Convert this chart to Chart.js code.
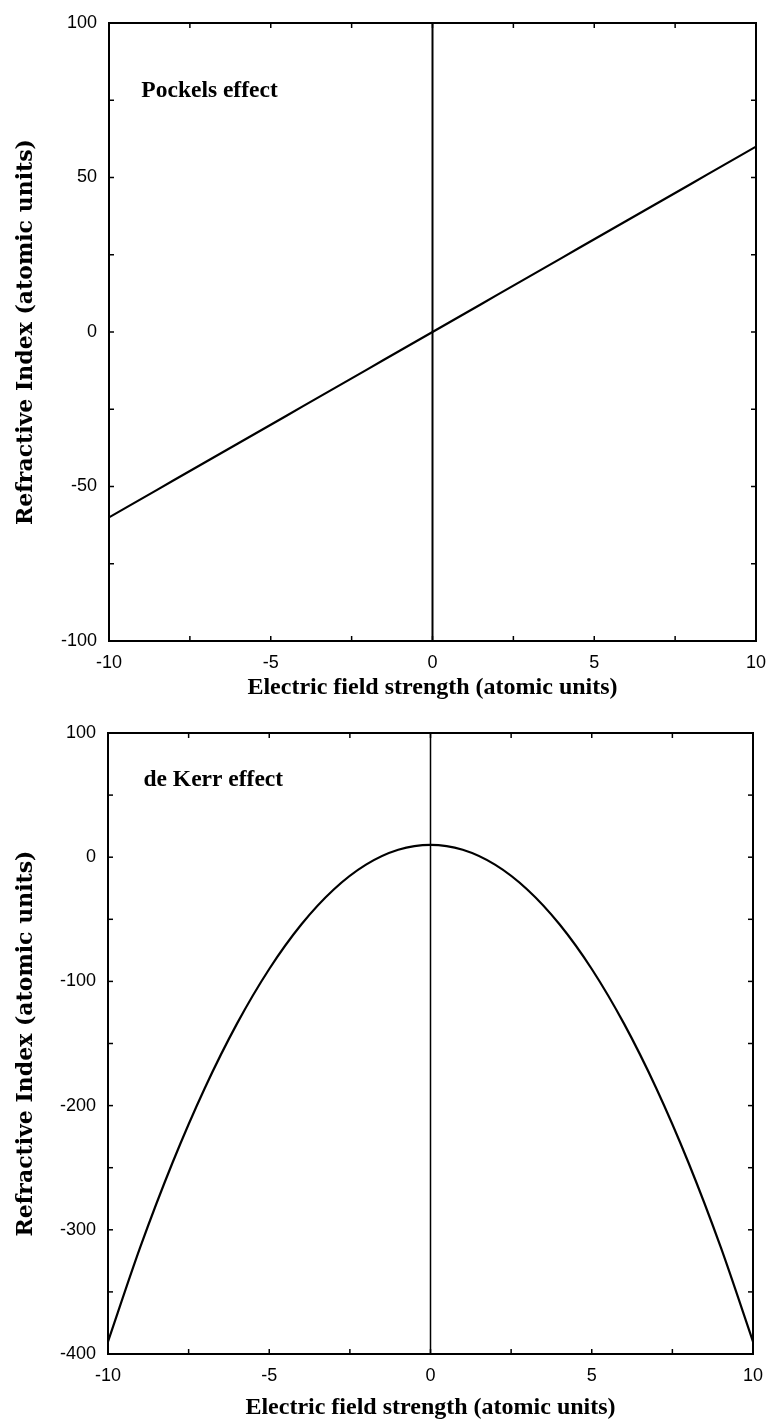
<!DOCTYPE html>
<html><head><meta charset="utf-8">
<script src="https://cdn.jsdelivr.net/npm/chart.js@4.4.0/dist/chart.umd.min.js"></script>
<style>
html,body{margin:0;padding:0;background:#fff;}
#w1{position:absolute;left:0;top:0;width:769px;height:712px;}
#w2{position:absolute;left:0;top:712px;width:769px;height:710px;}
</style></head><body>
<div id="w1"><canvas id="c1"></canvas></div>
<div id="w2"><canvas id="c2"></canvas></div>
<script>
// ---- data ----
const fieldX = [-10,-9,-8,-7,-6,-5,-4,-3,-2,-1,0,1,2,3,4,5,6,7,8,9,10];
const pockelsY = [-60,-54,-48,-42,-36,-30,-24,-18,-12,-6,0,6,12,18,24,30,36,42,48,54,60];
const kerrY = [-390,-314,-246,-186,-134,-90,-54,-26,-6,6,10,6,-6,-26,-54,-90,-134,-186,-246,-314,-390];
const xTickLabels = ['-10','-5','0','5','10'];
const pockelsYTickLabels = ['-100','-50','0','50','100'];
const kerrYTickLabels = ['-400','-300','-200','-100','0','100'];
const xTitle = 'Electric field strength (atomic units)';
const yTitle = 'Refractive Index (atomic units)';

const framePlugin = {
  id: 'frame',
  afterDraw(chart, args, opts) {
    const {ctx, chartArea: a, scales: {x, y}} = chart;
    ctx.save();
    ctx.strokeStyle = '#000';
    ctx.lineWidth = 1.5;
    const seg = (x1, y1, x2, y2) => { ctx.beginPath(); ctx.moveTo(x1, y1); ctx.lineTo(x2, y2); ctx.stroke(); };
    x.ticks.forEach(t => {
      const px = x.getPixelForValue(t.value);
      seg(px, a.bottom, px, a.bottom - 5);
      seg(px, a.top, px, a.top + 5);
    });
    y.ticks.forEach(t => {
      const py = y.getPixelForValue(t.value);
      seg(a.left, py, a.left + 5, py);
      seg(a.right, py, a.right - 5, py);
    });
    ctx.lineWidth = 2;
    ctx.strokeRect(a.left, a.top, a.right - a.left, a.bottom - a.top);
    ctx.font = 'bold 23.5px "Liberation Serif"';
    ctx.fillStyle = '#000';
    ctx.textBaseline = 'middle';
    ctx.textAlign = 'left';
    ctx.fillText(opts.label, x.getPixelForValue(opts.lx), y.getPixelForValue(opts.ly));
    ctx.restore();
  }
};

function makeChart(id, yVals, yMin, yMax, yStep, yLabels, vWidth, cfg) {
  return new Chart(document.getElementById(id), {
    type: 'line',
    data: {
      datasets: [
        {
          data: fieldX.map((v, i) => ({x: v, y: yVals[i]})),
          borderColor: '#000', borderWidth: 2.2, pointRadius: 0, tension: 0.3, fill: false
        },
        {
          data: [{x: 0, y: yMin}, {x: 0, y: yMax}],
          borderColor: '#000', borderWidth: vWidth, pointRadius: 0, fill: false
        }
      ]
    },
    options: {
      responsive: true, maintainAspectRatio: false, animation: false,
      layout: {padding: {top: cfg.padTop, right: cfg.padRight, left: 0, bottom: 0}},
      plugins: {
        legend: {display: false}, tooltip: {enabled: false},
        frame: {label: cfg.label, lx: cfg.lx, ly: cfg.ly}
      },
      scales: {
        x: {
          type: 'linear', min: -10, max: 10,
          afterFit: s => { s.height = cfg.xH; s.paddingLeft = 0; s.paddingRight = 0; },
          grid: {display: false, drawTicks: false},
          border: {display: false},
          ticks: {
            stepSize: 2.5, autoSkip: false, maxRotation: 0, padding: cfg.xTickPad,
            color: '#000', font: {family: '"Liberation Sans"', size: 18},
            callback: v => xTickLabels.includes(String(v)) ? String(v) : ''
          },
          title: {
            display: true, text: xTitle, color: '#000',
            font: {family: '"Liberation Serif"', size: 24, weight: 'bold'},
            padding: {top: 0, bottom: cfg.xTitlePad}
          }
        },
        y: {
          type: 'linear', min: yMin, max: yMax,
          afterFit: s => { s.width = cfg.yW; s.paddingTop = 0; s.paddingBottom = 0; },
          grid: {display: false, drawTicks: false},
          border: {display: false},
          ticks: {
            stepSize: yStep, autoSkip: false, padding: 12,
            color: '#000', font: {family: '"Liberation Sans"', size: 18},
            callback: v => yLabels.includes(String(v)) ? String(v) : ''
          },
          title: {
            display: true, text: yTitle, color: '#000',
            font: {family: '"DejaVu Serif"', size: 22, weight: 'bold'},
            padding: {top: 13, bottom: 0}
          }
        }
      }
    },
    plugins: [framePlugin]
  });
}

makeChart('c1', pockelsY, -100, 100, 25, pockelsYTickLabels, 2,
  {padTop: 23, padRight: 13, xH: 71, yW: 109, xTickPad: 11, xTitlePad: 10, label: 'Pockels effect', lx: -9, ly: 78});
makeChart('c2', kerrY, -400, 100, 50, kerrYTickLabels, 1.5,
  {padTop: 21, padRight: 16, xH: 68, yW: 108, xTickPad: 11, xTitlePad: 0, label: 'de Kerr effect', lx: -8.9, ly: 62});
</script>
</body></html>
